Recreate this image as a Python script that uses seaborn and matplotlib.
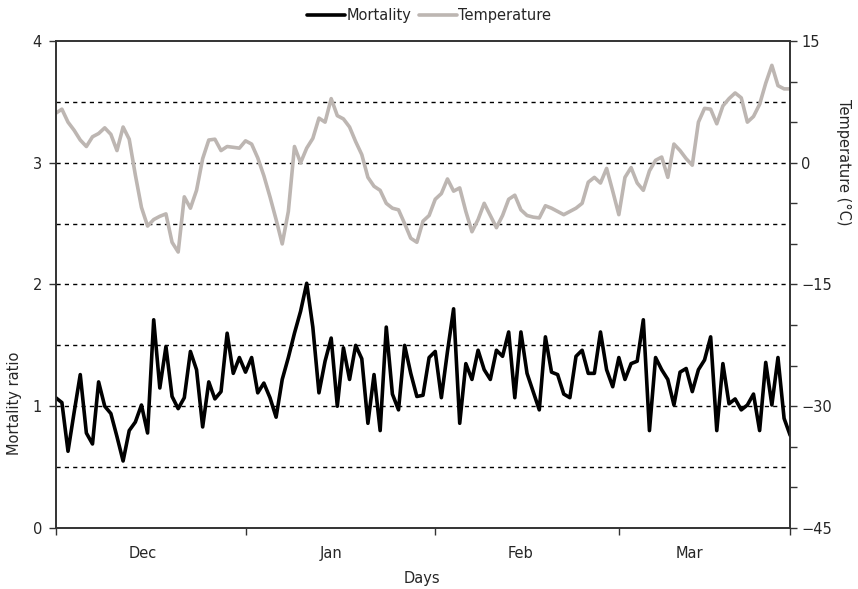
import numpy as np
import pandas as pd
import seaborn as sns
import matplotlib.pyplot as plt
from matplotlib.ticker import MultipleLocator

sns.set_theme(style="white")
plt.rcParams['font.family'] = ['DejaVu Sans']

# daily values, Dec 1 .. end of Mar
mortality = [
    1.07, 1.03, 0.63, 0.95, 1.26, 0.78, 0.69, 1.20, 1.00, 0.94,
    0.75, 0.55, 0.80, 0.87, 1.01, 0.78, 1.71, 1.15, 1.49, 1.08,
    0.98, 1.07, 1.45, 1.30, 0.83, 1.20, 1.06, 1.12, 1.60, 1.27,
    1.40, 1.28, 1.40, 1.11, 1.19, 1.07, 0.91, 1.22, 1.40, 1.60,
    1.78, 2.01, 1.65, 1.11, 1.37, 1.56, 1.00, 1.48, 1.22, 1.50,
    1.39, 0.86, 1.26, 0.80, 1.65, 1.10, 0.97, 1.50, 1.27, 1.08,
    1.09, 1.40, 1.45, 1.07, 1.45, 1.80, 0.86, 1.35, 1.22, 1.46,
    1.30, 1.22, 1.46, 1.41, 1.61, 1.07, 1.61, 1.27, 1.12, 0.97,
    1.57, 1.28, 1.26, 1.10, 1.07, 1.41, 1.46, 1.27, 1.27, 1.61,
    1.30, 1.16, 1.40, 1.22, 1.35, 1.37, 1.71, 0.80, 1.40, 1.30,
    1.22, 1.01, 1.28, 1.31, 1.12, 1.30, 1.38, 1.57, 0.80, 1.35,
    1.02, 1.06, 0.97, 1.01, 1.10, 0.80, 1.36, 1.01, 1.40, 0.90,
    0.76,
]
temperature = [
    6.1, 6.6, 5.0, 4.0, 2.8, 2.0, 3.2, 3.6, 4.3, 3.5,
    1.5, 4.4, 2.9, -1.5, -5.5, -7.8, -7.0, -6.6, -6.3, -9.8,
    -11.0, -4.2, -5.6, -3.4, 0.5, 2.8, 2.9, 1.5, 2.0, 1.9,
    1.8, 2.7, 2.3, 0.6, -1.6, -4.2, -7.0, -10.0, -6.0, 2.0,
    0.0, 1.8, 3.0, 5.5, 5.0, 7.9, 5.8, 5.4, 4.4, 2.6,
    1.0, -1.8, -2.9, -3.4, -5.0, -5.6, -5.8, -7.5, -9.3, -9.8,
    -7.2, -6.5, -4.5, -3.8, -2.0, -3.5, -3.1, -6.0, -8.5, -7.0,
    -5.0, -6.5, -8.0, -6.5, -4.5, -4.0, -5.8, -6.5, -6.7, -6.8,
    -5.3, -5.6, -6.0, -6.4, -6.0, -5.6, -5.0, -2.4, -1.8, -2.5,
    -0.7, -3.5, -6.4, -1.8, -0.6, -2.5, -3.4, -1.0, 0.3, 0.7,
    -1.8, 2.3, 1.5, 0.5, -0.3, 5.0, 6.7, 6.6, 4.8, 7.0,
    7.9, 8.6, 8.0, 5.0, 5.7, 7.2, 9.8, 12.0, 9.5, 9.1,
    9.1,
]
month_labels = ["Dec", "Jan", "Feb", "Mar"]
month_label_pos = [14.2, 44.9, 75.9, 103.5]
month_ticks = [0, 31, 62, 92, 120]
grid_levels = [0.5, 1.0, 1.5, 2.0, 2.5, 3.0, 3.5]

df = pd.DataFrame({"day": np.arange(len(mortality)),
                   "mortality": mortality,
                   "temperature": temperature})

grey = "#bdb6b2"
fs = 10.5
fig = plt.figure(figsize=(8.58, 5.89), dpi=100)
ax = fig.add_axes([0.065, 0.1036, 0.856, 0.8268])
ax2 = ax.twinx()

# dashed horizontal grid
for g in grid_levels:
    ax2.axhline(-45 + g * 15, color="black", ls=(0, (3, 3)), lw=1, zorder=0)

sns.lineplot(data=df, x="day", y="temperature", ax=ax2, color=grey, lw=2.6, label="Temperature", legend=False)
sns.lineplot(data=df, x="day", y="mortality", ax=ax, color="black", lw=2.6, label="Mortality", legend=False)

# put mortality above temperature axes
ax.set_zorder(ax2.get_zorder() + 1)
ax.patch.set_visible(False)

ax.set_xlim(0, 120)
ax.set_ylim(0, 4)
ax2.set_ylim(-45, 15)

ax.set_yticks([0, 1, 2, 3, 4])
ax.grid(False)
ax.tick_params(axis="y", which="major", length=5, width=1, color="#333333", left=True, labelsize=fs, pad=5)

ax2.yaxis.set_major_locator(MultipleLocator(15))
ax2.yaxis.set_minor_locator(MultipleLocator(5))
ax2.tick_params(axis="y", which="both", right=True, color="#333333", width=1, labelsize=fs, pad=3)
ax2.tick_params(axis="y", which="major", length=5)
ax2.tick_params(axis="y", which="minor", length=5)
ax2.grid(False)

ax.set_xticks(month_ticks)
ax.set_xticklabels([])
ax.set_xticks(month_label_pos, minor=True)
ax.set_xticklabels(month_labels, minor=True)
ax.tick_params(axis="x", which="major", length=5, width=1, color="#333333", bottom=True)
ax.tick_params(axis="x", which="minor", length=0, labelsize=fs, pad=13)

for a in (ax, ax2):
    for s in a.spines.values():
        s.set_color("#333333")
        s.set_linewidth(1.2)

ax.set_xlabel("Days", fontsize=fs, va="center")
ax.set_ylabel("Mortality ratio", fontsize=fs, va="center")
ax2.set_ylabel("Temperature (°C)", fontsize=fs, rotation=270, va="center")
ax.xaxis.set_label_coords(0.499, -0.103)
ax.yaxis.set_label_coords(-0.056, 0.255)
ax2.yaxis.set_label_coords(1.072, 0.752)

h1, l1 = ax.get_legend_handles_labels()
h2, l2 = ax2.get_legend_handles_labels()
fig.legend(h1 + h2, l1 + l2, loc="upper center", bbox_to_anchor=(0.5, 1.008), ncol=2,
           frameon=False, fontsize=fs, handlelength=2.6, handletextpad=0.1, columnspacing=0.5)

fig.savefig("out.png", dpi=100)
